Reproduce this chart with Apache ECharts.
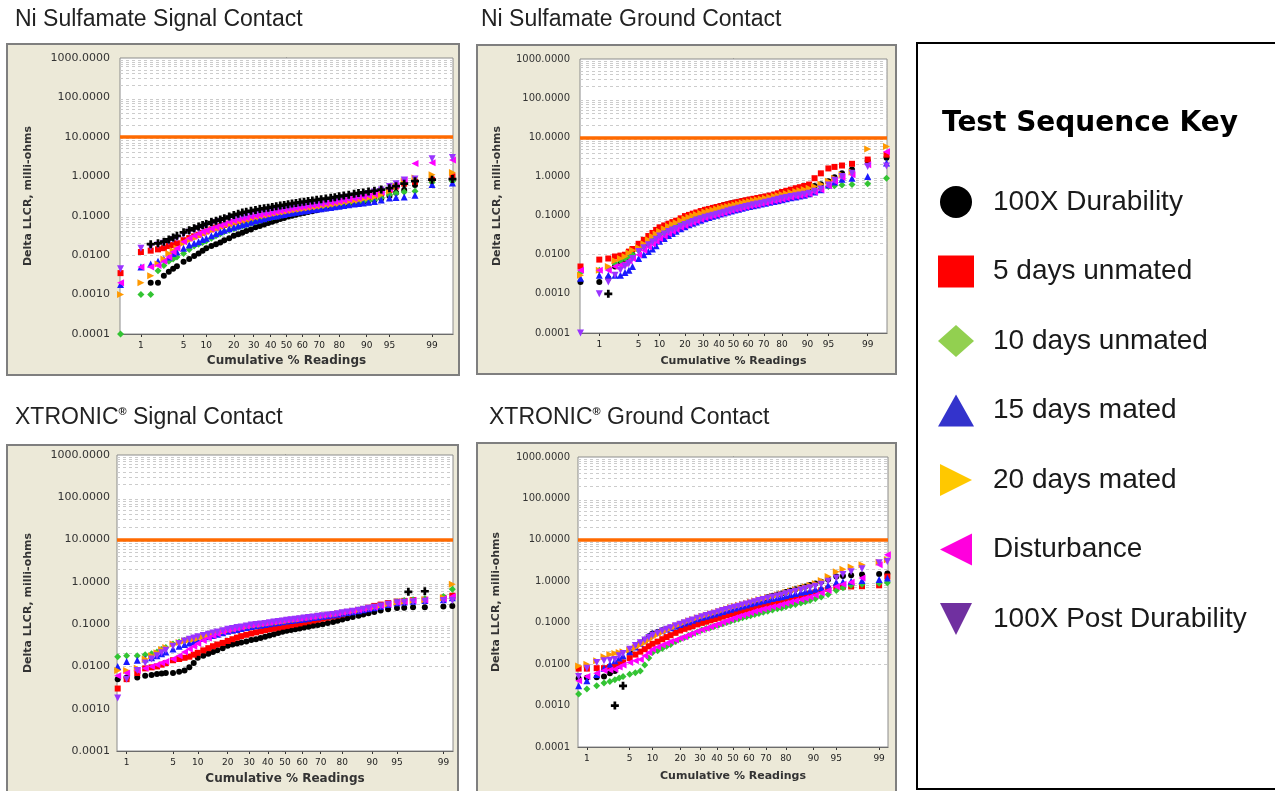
<!DOCTYPE html>
<html><head><meta charset="utf-8">
<script src="https://cdn.jsdelivr.net/npm/echarts@6.0.0/dist/echarts.min.js"></script>
<style>html,body{margin:0;padding:0;background:#fff}#c{width:1275px;height:791px}</style>
</head><body><div id="c"></div>
<script>
// ---------- axis / tick definitions ----------
const tickPct = [1, 5, 10, 20, 30, 40, 50, 60, 70, 80, 90, 95, 99];
const decades = [0.0001, 0.001, 0.01, 0.1, 1, 10, 100, 1000];
const minorMult = [2, 3, 4, 5, 6, 7, 8, 9];
const limitValue = 10;
const seriesNames = ['100X Durability', '5 days unmated', '10 days unmated', '15 days mated', '20 days mated', 'Disturbance', '100X Post Durability'];

// cumulative % plotting positions
const pctTop = [0.4, 1, 1.5, 2, 2.5, 3, 3.5, 4, 5, 6, 7, 8, 9, 10, 11.5, 13, 14.5, 16, 18, 20, 22, 24, 26, 28.5, 31, 33.5, 36, 38.5, 41, 43.5, 46, 48.5, 51, 53.5, 56, 58.5, 61, 63.5, 66, 68.5, 71, 73.5, 76, 78, 80, 82, 84, 86, 87.5, 89, 90.5, 92, 93.5, 95, 96, 97, 98, 99, 99.6];
const pctBottom = [0.7, 1, 1.5, 2, 2.5, 3, 3.5, 4, 5, 6, 7, 8, 9, 10, 11.5, 13, 14.5, 16, 18, 20, 22, 24, 26, 28.5, 31, 33.5, 36, 38.5, 41, 43.5, 46, 48.5, 51, 53.5, 56, 58.5, 61, 63.5, 66, 68.5, 71, 73.5, 76, 78, 80, 82, 84, 86, 87.5, 89, 90.5, 92, 93.5, 95, 96, 97, 98, 99, 99.3];

// ---------- Ni Sulfamate Signal Contact ----------
const nsSigBlack = [null, null, 0.002, 0.002, 0.003, 0.0038, 0.0045, 0.0052, 0.0068, 0.008, 0.0095, 0.011, 0.013, 0.015, 0.017, 0.019, 0.021, 0.024, 0.027, 0.031, 0.034, 0.037, 0.041, 0.045, 0.051, 0.055, 0.06, 0.065, 0.07, 0.076, 0.082, 0.088, 0.095, 0.1, 0.106, 0.112, 0.118, 0.124, 0.13, 0.137, 0.145, 0.152, 0.16, 0.167, 0.175, 0.185, 0.195, 0.205, 0.213, 0.222, 0.235, 0.25, 0.275, 0.32, 0.38, 0.45, 0.6, 0.8, 0.8];
const nsSigRed = [0.0035, 0.012, 0.013, 0.014, 0.015, 0.017, 0.018, 0.02, 0.024, 0.027, 0.03, 0.033, 0.037, 0.04, 0.045, 0.05, 0.054, 0.058, 0.063, 0.068, 0.073, 0.077, 0.082, 0.087, 0.094, 0.099, 0.104, 0.109, 0.115, 0.12, 0.126, 0.131, 0.137, 0.143, 0.149, 0.155, 0.161, 0.167, 0.173, 0.18, 0.187, 0.195, 0.203, 0.212, 0.221, 0.232, 0.244, 0.257, 0.268, 0.28, 0.295, 0.32, 0.37, 0.45, 0.55, 0.65, 0.72, 0.82, 1.0];
const nsSigGreen = [0.0001, 0.001, 0.001, 0.004, 0.0055, 0.007, 0.008, 0.009, 0.011, 0.014, 0.017, 0.019, 0.021, 0.023, 0.027, 0.031, 0.035, 0.039, 0.043, 0.047, 0.051, 0.055, 0.059, 0.064, 0.07, 0.075, 0.081, 0.086, 0.092, 0.097, 0.102, 0.107, 0.112, 0.117, 0.122, 0.127, 0.132, 0.138, 0.144, 0.15, 0.156, 0.163, 0.171, 0.178, 0.185, 0.193, 0.201, 0.21, 0.217, 0.225, 0.235, 0.25, 0.28, 0.34, 0.37, 0.4, 0.42, 0.7, 0.75];
const nsSigBlue = [0.0018, 0.005, 0.006, 0.007, 0.008, 0.009, 0.011, 0.012, 0.015, 0.018, 0.02, 0.022, 0.025, 0.027, 0.031, 0.035, 0.039, 0.043, 0.047, 0.051, 0.055, 0.059, 0.063, 0.068, 0.074, 0.079, 0.084, 0.09, 0.095, 0.099, 0.104, 0.108, 0.113, 0.117, 0.122, 0.126, 0.131, 0.136, 0.141, 0.146, 0.151, 0.156, 0.162, 0.168, 0.175, 0.182, 0.189, 0.197, 0.203, 0.21, 0.218, 0.23, 0.25, 0.28, 0.29, 0.3, 0.33, 0.62, 0.68];
const nsSigOrange = [0.001, 0.002, 0.003, 0.006, 0.008, 0.011, 0.013, 0.015, 0.02, 0.024, 0.027, 0.031, 0.034, 0.037, 0.042, 0.047, 0.051, 0.055, 0.06, 0.065, 0.07, 0.074, 0.078, 0.084, 0.09, 0.095, 0.1, 0.105, 0.11, 0.115, 0.12, 0.125, 0.131, 0.136, 0.141, 0.146, 0.152, 0.158, 0.164, 0.17, 0.176, 0.183, 0.191, 0.199, 0.208, 0.218, 0.229, 0.241, 0.252, 0.264, 0.28, 0.3, 0.34, 0.42, 0.55, 0.75, 0.9, 1.1, 1.25];
const nsSigMagenta = [0.002, 0.005, 0.005, 0.0055, 0.007, 0.009, 0.012, 0.015, 0.022, 0.027, 0.031, 0.035, 0.039, 0.042, 0.047, 0.052, 0.057, 0.062, 0.069, 0.075, 0.08, 0.085, 0.089, 0.094, 0.1, 0.105, 0.11, 0.115, 0.121, 0.127, 0.133, 0.139, 0.146, 0.152, 0.158, 0.164, 0.17, 0.176, 0.183, 0.19, 0.198, 0.206, 0.215, 0.225, 0.236, 0.248, 0.26, 0.275, 0.29, 0.305, 0.32, 0.35, 0.4, 0.48, 0.58, 0.8, 2.1, 2.2, 2.6];
const nsSigPurple = [0.0045, 0.015, 0.016, 0.018, 0.02, 0.022, 0.025, 0.027, 0.033, 0.038, 0.042, 0.046, 0.05, 0.055, 0.06, 0.066, 0.071, 0.076, 0.082, 0.088, 0.093, 0.098, 0.103, 0.109, 0.116, 0.122, 0.128, 0.134, 0.14, 0.146, 0.152, 0.158, 0.165, 0.171, 0.177, 0.183, 0.19, 0.197, 0.204, 0.211, 0.22, 0.229, 0.24, 0.25, 0.265, 0.28, 0.295, 0.31, 0.325, 0.345, 0.365, 0.4, 0.45, 0.55, 0.65, 0.8, 0.85, 2.8, 3.0];
const nsSigPlus = [null, null, 0.019, 0.02, 0.022, 0.025, 0.028, 0.031, 0.038, 0.043, 0.048, 0.053, 0.058, 0.062, 0.069, 0.075, 0.08, 0.086, 0.095, 0.105, 0.112, 0.12, 0.126, 0.133, 0.14, 0.147, 0.154, 0.16, 0.167, 0.174, 0.181, 0.188, 0.196, 0.204, 0.211, 0.219, 0.227, 0.235, 0.244, 0.253, 0.263, 0.273, 0.285, 0.296, 0.31, 0.325, 0.34, 0.36, 0.375, 0.39, 0.41, 0.43, 0.46, 0.5, 0.56, 0.65, 0.75, 0.82, 0.85];

// ---------- Ni Sulfamate Ground Contact ----------
const nsGndBlack = [0.002, 0.002, 0.0025, 0.005, 0.006, 0.007, 0.008, 0.01, 0.014, 0.018, 0.022, 0.027, 0.033, 0.04, 0.047, 0.055, 0.063, 0.07, 0.08, 0.09, 0.099, 0.108, 0.117, 0.128, 0.14, 0.148, 0.157, 0.165, 0.176, 0.186, 0.196, 0.206, 0.216, 0.225, 0.234, 0.244, 0.255, 0.266, 0.278, 0.29, 0.303, 0.318, 0.335, 0.35, 0.37, 0.39, 0.41, 0.44, 0.46, 0.49, 0.52, 0.57, 0.63, 0.75, 0.95, 1.2, 1.5, 2.5, 3.0];
const nsGndRed = [0.005, 0.0075, 0.008, 0.009, 0.0095, 0.01, 0.012, 0.014, 0.019, 0.024, 0.03, 0.036, 0.043, 0.05, 0.056, 0.062, 0.068, 0.074, 0.085, 0.097, 0.104, 0.112, 0.12, 0.13, 0.14, 0.148, 0.157, 0.165, 0.174, 0.184, 0.194, 0.204, 0.214, 0.224, 0.235, 0.245, 0.257, 0.268, 0.28, 0.293, 0.308, 0.325, 0.345, 0.37, 0.4, 0.43, 0.46, 0.5, 0.53, 0.57, 0.62, 0.9, 1.2, 1.6, 1.75, 1.9, 2.1, 2.7, 3.6];
const nsGndGreen = [0.0035, 0.004, 0.0045, 0.006, 0.007, 0.008, 0.009, 0.01, 0.013, 0.016, 0.02, 0.024, 0.028, 0.033, 0.038, 0.044, 0.05, 0.056, 0.063, 0.07, 0.077, 0.084, 0.09, 0.097, 0.105, 0.112, 0.119, 0.126, 0.134, 0.142, 0.15, 0.159, 0.168, 0.176, 0.185, 0.194, 0.203, 0.213, 0.223, 0.234, 0.246, 0.258, 0.272, 0.285, 0.3, 0.315, 0.33, 0.35, 0.365, 0.38, 0.4, 0.43, 0.48, 0.55, 0.58, 0.6, 0.62, 0.65, 0.9];
const nsGndBlue = [0.0025, 0.003, 0.003, 0.003, 0.003, 0.0035, 0.004, 0.005, 0.008, 0.01, 0.012, 0.014, 0.017, 0.022, 0.026, 0.031, 0.035, 0.04, 0.046, 0.052, 0.058, 0.064, 0.069, 0.076, 0.083, 0.089, 0.096, 0.102, 0.109, 0.116, 0.123, 0.131, 0.139, 0.146, 0.154, 0.162, 0.17, 0.178, 0.187, 0.197, 0.207, 0.218, 0.23, 0.242, 0.255, 0.27, 0.285, 0.3, 0.315, 0.33, 0.36, 0.4, 0.46, 0.6, 0.72, 0.85, 0.9, 1.0, 2.2];
const nsGndOrange = [0.003, 0.004, 0.005, 0.007, 0.008, 0.009, 0.011, 0.013, 0.015, 0.019, 0.024, 0.029, 0.034, 0.04, 0.046, 0.053, 0.06, 0.066, 0.075, 0.083, 0.091, 0.099, 0.106, 0.114, 0.123, 0.131, 0.139, 0.147, 0.155, 0.163, 0.171, 0.179, 0.188, 0.198, 0.208, 0.219, 0.23, 0.241, 0.252, 0.264, 0.277, 0.292, 0.31, 0.325, 0.345, 0.365, 0.39, 0.415, 0.44, 0.465, 0.5, 0.55, 0.63, 0.75, 0.9, 1.1, 1.3, 5.0, 5.8];
const nsGndMagenta = [0.004, 0.004, 0.004, 0.005, 0.0055, 0.006, 0.007, 0.008, 0.01, 0.013, 0.016, 0.019, 0.022, 0.026, 0.03, 0.035, 0.04, 0.045, 0.05, 0.056, 0.062, 0.068, 0.074, 0.081, 0.088, 0.094, 0.1, 0.106, 0.113, 0.12, 0.128, 0.136, 0.145, 0.152, 0.16, 0.168, 0.177, 0.185, 0.193, 0.202, 0.212, 0.224, 0.238, 0.25, 0.265, 0.28, 0.295, 0.31, 0.325, 0.34, 0.36, 0.4, 0.46, 0.58, 0.75, 0.95, 1.1, 2.0, 4.3];
const nsGndPurple = [0.0001, 0.001, 0.002, 0.003, 0.004, 0.005, 0.006, 0.008, 0.012, 0.015, 0.018, 0.021, 0.025, 0.03, 0.034, 0.039, 0.043, 0.047, 0.053, 0.059, 0.065, 0.071, 0.077, 0.083, 0.09, 0.096, 0.102, 0.108, 0.115, 0.122, 0.13, 0.138, 0.146, 0.153, 0.161, 0.17, 0.179, 0.188, 0.197, 0.207, 0.219, 0.232, 0.247, 0.26, 0.275, 0.29, 0.305, 0.32, 0.335, 0.35, 0.37, 0.42, 0.48, 0.6, 0.8, 1.0, 1.2, 1.8, 1.85];
const nsGndPlusPct = [1.5];
const nsGndPlus = [0.001];

// ---------- XTRONIC Signal Contact ----------
const xtSigBlack = [0.005, 0.0055, 0.0055, 0.006, 0.0063, 0.0066, 0.0068, 0.007, 0.007, 0.0075, 0.008, 0.0095, 0.012, 0.016, 0.018, 0.02, 0.022, 0.024, 0.027, 0.031, 0.033, 0.035, 0.037, 0.039, 0.042, 0.044, 0.047, 0.05, 0.054, 0.058, 0.062, 0.066, 0.07, 0.073, 0.076, 0.079, 0.083, 0.087, 0.091, 0.095, 0.1, 0.106, 0.113, 0.12, 0.128, 0.137, 0.147, 0.158, 0.168, 0.18, 0.195, 0.21, 0.225, 0.24, 0.245, 0.25, 0.25, 0.26, 0.27];
const xtSigRed = [0.003, 0.005, 0.007, 0.009, 0.0095, 0.01, 0.011, 0.012, 0.014, 0.015, 0.016, 0.017, 0.019, 0.021, 0.024, 0.027, 0.03, 0.033, 0.036, 0.04, 0.044, 0.048, 0.052, 0.056, 0.06, 0.064, 0.068, 0.072, 0.076, 0.079, 0.083, 0.087, 0.091, 0.095, 0.099, 0.104, 0.11, 0.116, 0.122, 0.128, 0.135, 0.143, 0.152, 0.16, 0.17, 0.182, 0.195, 0.21, 0.225, 0.245, 0.27, 0.29, 0.315, 0.34, 0.355, 0.37, 0.38, 0.42, 0.47];
const xtSigGreen = [0.017, 0.018, 0.018, 0.019, 0.02, 0.022, 0.025, 0.028, 0.034, 0.038, 0.041, 0.043, 0.046, 0.048, 0.051, 0.055, 0.058, 0.061, 0.065, 0.07, 0.073, 0.077, 0.08, 0.084, 0.089, 0.092, 0.095, 0.099, 0.103, 0.106, 0.11, 0.114, 0.118, 0.122, 0.125, 0.129, 0.133, 0.138, 0.143, 0.148, 0.153, 0.159, 0.166, 0.173, 0.182, 0.192, 0.203, 0.215, 0.225, 0.237, 0.25, 0.27, 0.3, 0.34, 0.36, 0.38, 0.4, 0.45, 0.67];
const xtSigBlue = [0.01, 0.013, 0.014, 0.015, 0.016, 0.018, 0.02, 0.022, 0.026, 0.03, 0.033, 0.036, 0.039, 0.042, 0.046, 0.05, 0.054, 0.058, 0.063, 0.068, 0.072, 0.075, 0.079, 0.083, 0.088, 0.091, 0.094, 0.098, 0.102, 0.106, 0.11, 0.114, 0.118, 0.122, 0.125, 0.129, 0.133, 0.138, 0.143, 0.148, 0.153, 0.159, 0.165, 0.172, 0.18, 0.188, 0.197, 0.208, 0.218, 0.23, 0.245, 0.265, 0.29, 0.32, 0.335, 0.35, 0.36, 0.38, 0.42];
const xtSigOrange = [0.008, 0.008, 0.009, 0.015, 0.018, 0.021, 0.025, 0.028, 0.034, 0.037, 0.04, 0.042, 0.044, 0.046, 0.05, 0.054, 0.058, 0.062, 0.066, 0.071, 0.075, 0.079, 0.083, 0.087, 0.092, 0.095, 0.098, 0.102, 0.106, 0.11, 0.113, 0.117, 0.121, 0.125, 0.129, 0.133, 0.138, 0.143, 0.148, 0.153, 0.158, 0.164, 0.171, 0.178, 0.186, 0.195, 0.205, 0.217, 0.227, 0.24, 0.255, 0.275, 0.3, 0.33, 0.345, 0.36, 0.38, 0.42, 0.88];
const xtSigMagenta = [0.006, 0.007, 0.008, 0.009, 0.01, 0.011, 0.012, 0.013, 0.015, 0.018, 0.022, 0.026, 0.03, 0.035, 0.041, 0.047, 0.053, 0.059, 0.066, 0.072, 0.077, 0.081, 0.085, 0.09, 0.095, 0.099, 0.103, 0.107, 0.111, 0.115, 0.119, 0.123, 0.127, 0.131, 0.134, 0.138, 0.142, 0.147, 0.152, 0.157, 0.162, 0.168, 0.175, 0.182, 0.19, 0.198, 0.208, 0.22, 0.23, 0.242, 0.255, 0.275, 0.3, 0.33, 0.345, 0.36, 0.37, 0.4, 0.45];
const xtSigPurple = [0.0018, 0.005, 0.008, 0.012, 0.015, 0.018, 0.021, 0.024, 0.03, 0.035, 0.04, 0.044, 0.047, 0.05, 0.054, 0.058, 0.062, 0.065, 0.07, 0.076, 0.079, 0.083, 0.086, 0.09, 0.095, 0.098, 0.101, 0.104, 0.108, 0.112, 0.115, 0.119, 0.123, 0.127, 0.13, 0.134, 0.139, 0.143, 0.148, 0.153, 0.158, 0.164, 0.17, 0.177, 0.185, 0.193, 0.203, 0.214, 0.224, 0.236, 0.25, 0.27, 0.295, 0.32, 0.33, 0.34, 0.35, 0.36, 0.36];
const xtSigPlusPct = [96.5, 98];
const xtSigPlus = [0.58, 0.6];

// ---------- XTRONIC Ground Contact ----------
const xtGndBlack = [0.0045, 0.0047, 0.0048, 0.005, 0.006, 0.0068, 0.009, 0.011, 0.02, 0.026, 0.033, 0.039, 0.047, 0.055, 0.06, 0.066, 0.071, 0.076, 0.082, 0.088, 0.096, 0.105, 0.114, 0.126, 0.138, 0.148, 0.158, 0.168, 0.18, 0.194, 0.208, 0.222, 0.238, 0.252, 0.266, 0.28, 0.296, 0.318, 0.345, 0.375, 0.41, 0.445, 0.48, 0.51, 0.55, 0.59, 0.64, 0.7, 0.75, 0.81, 0.88, 0.97, 1.1, 1.3, 1.35, 1.4, 1.45, 1.5, 1.55];
const xtGndRed = [0.0078, 0.0078, 0.008, 0.008, 0.0085, 0.009, 0.01, 0.011, 0.014, 0.017, 0.02, 0.023, 0.027, 0.031, 0.035, 0.04, 0.045, 0.05, 0.057, 0.065, 0.071, 0.077, 0.083, 0.091, 0.099, 0.106, 0.114, 0.122, 0.131, 0.14, 0.15, 0.16, 0.17, 0.18, 0.19, 0.202, 0.215, 0.228, 0.241, 0.256, 0.272, 0.29, 0.31, 0.33, 0.35, 0.375, 0.4, 0.43, 0.46, 0.5, 0.54, 0.6, 0.66, 0.72, 0.74, 0.75, 0.76, 0.8, 1.3];
const xtGndGreen = [0.0019, 0.0025, 0.003, 0.0035, 0.0038, 0.0042, 0.0046, 0.005, 0.0057, 0.0062, 0.0068, 0.0095, 0.014, 0.019, 0.021, 0.024, 0.027, 0.03, 0.035, 0.04, 0.044, 0.049, 0.054, 0.06, 0.067, 0.072, 0.077, 0.082, 0.088, 0.094, 0.101, 0.108, 0.116, 0.123, 0.131, 0.139, 0.148, 0.157, 0.167, 0.178, 0.19, 0.203, 0.216, 0.228, 0.243, 0.26, 0.277, 0.3, 0.32, 0.345, 0.38, 0.42, 0.48, 0.6, 0.7, 0.8, 0.85, 0.9, 0.92];
const xtGndBlue = [0.003, 0.004, 0.0056, 0.008, 0.01, 0.012, 0.014, 0.016, 0.02, 0.026, 0.032, 0.039, 0.047, 0.055, 0.06, 0.066, 0.071, 0.076, 0.083, 0.09, 0.098, 0.106, 0.114, 0.124, 0.135, 0.144, 0.153, 0.163, 0.175, 0.187, 0.199, 0.212, 0.225, 0.239, 0.253, 0.268, 0.285, 0.302, 0.32, 0.34, 0.36, 0.382, 0.405, 0.425, 0.45, 0.48, 0.51, 0.54, 0.57, 0.6, 0.64, 0.7, 0.8, 0.95, 0.97, 1.0, 1.05, 1.1, 1.2];
const xtGndOrange = [0.009, 0.01, 0.012, 0.015, 0.017, 0.018, 0.019, 0.02, 0.022, 0.025, 0.029, 0.033, 0.038, 0.044, 0.051, 0.058, 0.066, 0.073, 0.082, 0.092, 0.101, 0.111, 0.12, 0.131, 0.143, 0.154, 0.165, 0.176, 0.19, 0.204, 0.218, 0.233, 0.25, 0.265, 0.28, 0.297, 0.316, 0.338, 0.362, 0.385, 0.41, 0.44, 0.47, 0.5, 0.54, 0.58, 0.63, 0.69, 0.74, 0.8, 0.88, 1.05, 1.3, 1.7, 1.95, 2.2, 2.5, 2.9, 3.3];
const xtGndMagenta = [0.004, 0.005, 0.006, 0.007, 0.0072, 0.0075, 0.0085, 0.0095, 0.011, 0.012, 0.013, 0.016, 0.019, 0.023, 0.026, 0.029, 0.032, 0.035, 0.038, 0.042, 0.046, 0.051, 0.056, 0.062, 0.068, 0.074, 0.08, 0.087, 0.095, 0.103, 0.112, 0.122, 0.132, 0.142, 0.152, 0.163, 0.175, 0.188, 0.2, 0.214, 0.228, 0.243, 0.258, 0.275, 0.295, 0.315, 0.34, 0.365, 0.39, 0.42, 0.46, 0.52, 0.6, 0.75, 0.85, 0.95, 1.2, 2.5, 4.4];
const xtGndPurple = [0.005, 0.008, 0.011, 0.012, 0.0125, 0.013, 0.016, 0.018, 0.023, 0.028, 0.033, 0.038, 0.044, 0.05, 0.056, 0.063, 0.07, 0.076, 0.084, 0.092, 0.1, 0.109, 0.117, 0.128, 0.14, 0.15, 0.16, 0.17, 0.183, 0.196, 0.209, 0.222, 0.237, 0.251, 0.266, 0.282, 0.3, 0.32, 0.342, 0.365, 0.39, 0.415, 0.44, 0.465, 0.5, 0.535, 0.575, 0.62, 0.66, 0.7, 0.76, 0.85, 1.0, 1.2, 1.45, 1.7, 2.0, 2.8, 3.0];
const xtGndPlusPct = [3, 4];
const xtGndPlus = [0.001, 0.003];

// ---------- probability-scale transform (inverse normal CDF) ----------
function probit(pc) {
  const p = pc / 100;
  const a = [-3.969683028665376e+01, 2.209460984245205e+02, -2.759285104469687e+02, 1.383577518672690e+02, -3.066479806614716e+01, 2.506628277459239e+00];
  const b = [-5.447609879822406e+01, 1.615858368580409e+02, -1.556989798598866e+02, 6.680131188771972e+01, -1.328068155288572e+01];
  const c = [-7.784894002430293e-03, -3.223964580411365e-01, -2.400758277161838e+00, -2.549732539343734e+00, 4.374664141464968e+00, 2.938163982698783e+00];
  const d = [7.784695709041462e-03, 3.224671290700398e-01, 2.445134137142996e+00, 3.754408661907416e+00];
  const pl = 0.02425, ph = 1 - pl;
  let q, r;
  if (p < pl) {
    q = Math.sqrt(-2 * Math.log(p));
    return (((((c[0]*q+c[1])*q+c[2])*q+c[3])*q+c[4])*q+c[5]) / ((((d[0]*q+d[1])*q+d[2])*q+d[3])*q+1);
  } else if (p <= ph) {
    q = p - 0.5; r = q*q;
    return (((((a[0]*r+a[1])*r+a[2])*r+a[3])*r+a[4])*r+a[5])*q / (((((b[0]*r+b[1])*r+b[2])*r+b[3])*r+b[4])*r+1);
  } else {
    q = Math.sqrt(-2 * Math.log(1 - p));
    return -(((((c[0]*q+c[1])*q+c[2])*q+c[3])*q+c[4])*q+c[5]) / ((((d[0]*q+d[1])*q+d[2])*q+d[3])*q+1);
  }
}
const tickZ = tickPct.map(probit);
function tickFormatter(v) {
  let best = 0;
  for (let i = 1; i < tickZ.length; i++) if (Math.abs(tickZ[i] - v) < Math.abs(tickZ[best] - v)) best = i;
  return String(tickPct[best]);
}

// ---------- layout & style ----------
const FONT = 'Liberation Sans, Arial, sans-serif';
const AXFONT = 'DejaVu Sans, Verdana, sans-serif';
const panels = [
  { grid: {left: 120, top: 58, width: 333, height: 276}, pct: pctTop, pMin: 0.39, pMax: 99.61,
    ySize: 11, yMargin: 10, yNameGap: 86, xNameSize: 12, xNameGap: 21,
    vals: [nsSigBlack, nsSigRed, nsSigGreen, nsSigBlue, nsSigOrange, nsSigMagenta, nsSigPurple], plusPct: pctTop, plus: nsSigPlus },
  { grid: {left: 580, top: 59, width: 307, height: 274}, pct: pctTop, pMin: 0.39, pMax: 99.61,
    ySize: 10, yMargin: 10, yNameGap: 77, xNameSize: 11, xNameGap: 23,
    vals: [nsGndBlack, nsGndRed, nsGndGreen, nsGndBlue, nsGndOrange, nsGndMagenta, nsGndPurple], plusPct: nsGndPlusPct, plus: nsGndPlus },
  { grid: {left: 117, top: 455, width: 336, height: 296}, pct: pctBottom, pMin: 0.68, pMax: 99.32,
    ySize: 11, yMargin: 7, yNameGap: 83, xNameSize: 12, xNameGap: 22,
    vals: [xtSigBlack, xtSigRed, xtSigGreen, xtSigBlue, xtSigOrange, xtSigMagenta, xtSigPurple], plusPct: xtSigPlusPct, plus: xtSigPlus },
  { grid: {left: 578, top: 457, width: 310, height: 290}, pct: pctBottom, pMin: 0.68, pMax: 99.32,
    ySize: 10, yMargin: 8, yNameGap: 76, xNameSize: 11, xNameGap: 24,
    vals: [xtGndBlack, xtGndRed, xtGndGreen, xtGndBlue, xtGndOrange, xtGndMagenta, xtGndPurple], plusPct: xtGndPlusPct, plus: xtGndPlus }
];
const marks = [
  {symbol: 'circle', size: 6, color: '#000000', legendColor: '#000000'},
  {symbol: 'rect', size: 6, color: '#ff0000', legendColor: '#ff0000'},
  {symbol: 'diamond', size: 7, color: '#33c433', legendColor: '#92d050'},
  {symbol: 'triangle', size: 7, color: '#1a1aff', legendColor: '#3333cc'},
  {symbol: 'path://M0,0L10,5L0,10Z', size: 7, color: '#ff9900', legendColor: '#ffc800'},
  {symbol: 'path://M10,0L0,5L10,10Z', size: 7, color: '#ff00ff', legendColor: '#ff00dd'},
  {symbol: 'path://M0,0L10,0L5,10Z', size: 7, color: '#9933ff', legendColor: '#7030a0'}
];
const plusSymbol = 'path://M3.3,0H6.7V3.3H10V6.7H6.7V10H3.3V6.7H0V3.3H3.3Z';

function toData(pct, vals) {
  const out = [];
  pct.forEach((p, i) => { if (vals[i] != null) out.push([probit(p), vals[i]]); });
  return out;
}
const minorLines = [];
decades.slice(0, -1).forEach(dv => minorMult.forEach(m => minorLines.push({yAxis: dv * m})));

const grids = [], xAxes = [], yAxes = [], series = [];
panels.forEach((pn, gi) => {
  grids.push(Object.assign({show: true, backgroundColor: '#ffffff', borderColor: '#8c8c8c', borderWidth: 1, z: 1}, pn.grid));
  xAxes.push({
    gridIndex: gi, type: 'value', min: probit(pn.pMin), max: probit(pn.pMax),
    axisLine: {show: true, onZero: false, lineStyle: {color: '#4d4d4d', width: 1}},
    axisTick: {show: true, customValues: tickZ, length: 3, lineStyle: {color: '#333'}},
    axisLabel: {show: true, customValues: tickZ, formatter: tickFormatter, fontSize: 9, color: '#222', margin: 7, fontFamily: AXFONT},
    splitLine: {show: true, lineStyle: {type: [3, 3], color: '#a6a6a6'}},
    name: 'Cumulative % Readings', nameLocation: 'middle', nameGap: pn.xNameGap,
    nameTextStyle: {fontWeight: 'bold', fontSize: pn.xNameSize, color: '#333', fontFamily: AXFONT}
  });
  yAxes.push({
    gridIndex: gi, type: 'log', logBase: 10, min: decades[0], max: decades[decades.length - 1], splitNumber: 7,
    axisLine: {show: true, lineStyle: {color: '#4d4d4d', width: 1}},
    axisTick: {show: true, length: 3, lineStyle: {color: '#333'}},
    axisLabel: {formatter: v => Number(v).toFixed(4), fontSize: pn.ySize, color: '#333', margin: pn.yMargin, fontFamily: AXFONT},
    splitLine: {show: true, lineStyle: {type: [3, 3], color: '#9a9a9a'}},
    name: 'Delta LLCR, milli-ohms', nameLocation: 'middle', nameRotate: 90, nameGap: pn.yNameGap,
    nameTextStyle: {fontWeight: 'bold', fontSize: 11, color: '#333', fontFamily: AXFONT}
  });
  pn.vals.forEach((vals, si) => {
    const mk = marks[si];
    const s = {
      type: 'scatter', name: seriesNames[si], xAxisIndex: gi, yAxisIndex: gi, z: 10 + si,
      symbol: mk.symbol, symbolSize: mk.size, itemStyle: {color: mk.color, opacity: 1}, silent: true,
      data: toData(pn.pct, vals)
    };
    if (si === 0) {
      s.markLine = {silent: true, symbol: ['none', 'none'], label: {show: false}, z: 3,
        lineStyle: {type: 'solid', color: '#ff6a00', width: 3.5}, emphasis: {disabled: true},
        data: [{yAxis: limitValue}]};
    }
    series.push(s);
  });
  series.push({
    type: 'scatter', name: 'extra', xAxisIndex: gi, yAxisIndex: gi, z: 20,
    symbol: plusSymbol, symbolSize: 8, itemStyle: {color: '#000000', opacity: 1},
    data: toData(pn.plusPct, pn.plus), silent: true,
    markLine: {silent: true, symbol: ['none', 'none'], label: {show: false}, z: 1,
      lineStyle: {type: [3, 3], color: '#cccccc', width: 1}, emphasis: {disabled: true}, data: minorLines}
  });
});

const titleRich = {
  a: {fontSize: 23, fontWeight: 'normal', fontFamily: FONT, color: '#222'},
  s: {fontSize: 11, fontWeight: 'bold', fontFamily: FONT, color: '#222', verticalAlign: 'top'}
};
const option = {
  animation: false,
  backgroundColor: '#ffffff',
  title: [
    {text: 'Ni Sulfamate Signal Contact', left: 15, top: 8, padding: 0, textStyle: {fontSize: 23, fontWeight: 'normal', fontFamily: FONT, color: '#222'}},
    {text: 'Ni Sulfamate Ground Contact', left: 481, top: 8, padding: 0, textStyle: {fontSize: 23, fontWeight: 'normal', fontFamily: FONT, color: '#222'}},
    {text: '{a|XTRONIC}{s|®}{a| Signal Contact}', left: 15, top: 406, padding: 0, textStyle: {fontWeight: 'normal', rich: titleRich}},
    {text: '{a|XTRONIC}{s|®}{a| Ground Contact}', left: 489, top: 406, padding: 0, textStyle: {fontWeight: 'normal', rich: titleRich}},
    {text: 'Test Sequence Key', left: 942, top: 110, padding: 0, textStyle: {fontSize: 28, fontWeight: 'bold', fontFamily: 'DejaVu Sans, Arial, sans-serif', color: '#000'}}
  ],
  legend: {
    orient: 'vertical', left: 938, top: 186, padding: 0, itemWidth: 36, itemHeight: 32, itemGap: 37.5,
    selectedMode: false, z: 6,
    textStyle: {fontSize: 28, fontFamily: FONT, color: '#1a1a1a', lineHeight: 32, padding: [0, 0, 0, 14]},
    data: seriesNames.map((n, i) => ({name: n, icon: marks[i].symbol, itemStyle: {color: marks[i].legendColor, opacity: 1}}))
  },
  graphic: {elements: [
    {type: 'rect', z: -10, silent: true, shape: {x: 7, y: 44, width: 452, height: 331}, style: {fill: '#ece9d8', stroke: '#7f7f7f', lineWidth: 2}},
    {type: 'rect', z: -10, silent: true, shape: {x: 477, y: 45, width: 419, height: 329}, style: {fill: '#ece9d8', stroke: '#7f7f7f', lineWidth: 2}},
    {type: 'rect', z: -10, silent: true, shape: {x: 7, y: 445, width: 451, height: 360}, style: {fill: '#ece9d8', stroke: '#7f7f7f', lineWidth: 2}},
    {type: 'rect', z: -10, silent: true, shape: {x: 477, y: 443, width: 419, height: 362}, style: {fill: '#ece9d8', stroke: '#7f7f7f', lineWidth: 2}},
    {type: 'rect', z: -10, silent: true, shape: {x: 917, y: 43, width: 364, height: 746}, style: {fill: '#ffffff', stroke: '#000000', lineWidth: 2}}
  ]},
  grid: grids, xAxis: xAxes, yAxis: yAxes, series: series
};
const chart = echarts.init(document.getElementById('c'), null, {renderer: 'canvas'});
chart.setOption(option);
</script>
</body></html>
